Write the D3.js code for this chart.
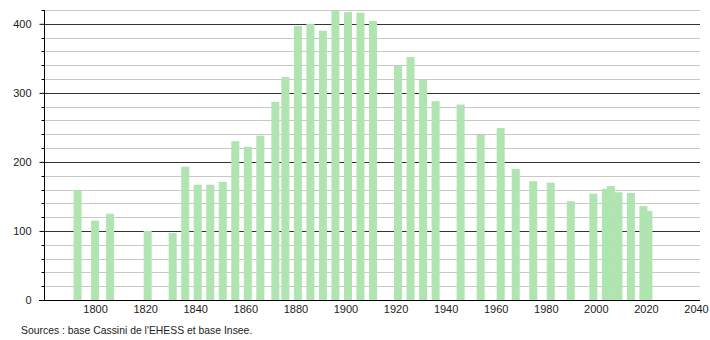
<!DOCTYPE html>
<html>
<head>
<meta charset="utf-8">
<script src="https://cdn.jsdelivr.net/npm/d3@7"></script>
<style>
  body { margin: 0; background: #fff; }
  svg { font-family: 'Liberation Sans', Arial, sans-serif; }
</style>
</head>
<body>
<svg id="chart" width="710" height="340"></svg>
<script>
// census years and population
const years = [1793, 1800, 1806, 1821, 1831, 1836, 1841, 1846, 1851, 1856, 1861, 1866,
  1872, 1876, 1881, 1886, 1891, 1896, 1901, 1906, 1911, 1921, 1926, 1931, 1936, 1946,
  1954, 1962, 1968, 1975, 1982, 1990, 1999, 2004, 2006, 2009, 2014, 2019, 2021];
const population = [159, 115, 125, 100, 97, 193, 167, 167, 171, 230, 222, 238,
  287, 323, 397, 400, 390, 419, 417, 416, 404, 339, 352, 319, 288, 283,
  239, 249, 190, 172, 170, 143, 154, 161, 165, 156, 155, 136, 129];
const xTicks = [1800, 1820, 1840, 1860, 1880, 1900, 1920, 1940, 1960, 1980, 2000, 2020, 2040];
const yMajor = [0, 100, 200, 300, 400];
const yMinor = d3.range(20, 421, 20).filter(v => v % 100 !== 0);
const source = "Sources : base Cassini de l'EHESS et base Insee.";

const data = years.map((y, i) => ({ year: y, pop: population[i] }));

const svg = d3.select('#chart');
const left = 44;
const right = 700;
const bottom = 300;

const xScale = d3.scaleLinear().domain([1780, 2042]).range([45, 701]);
const yScale = d3.scaleLinear().domain([0, 420]).range([bottom, 10]);

// minor grid
svg.append('g')
  .selectAll('line')
  .data(yMinor)
  .enter()
  .append('line')
  .attr('x1', left)
  .attr('x2', right)
  .attr('y1', d => Math.round(yScale(d)) + 0.5)
  .attr('y2', d => Math.round(yScale(d)) + 0.5)
  .style('stroke', '#c8c8c8')
  .style('stroke-width', 1);

// major grid
svg.append('g')
  .selectAll('line')
  .data(yMajor.filter(d => d > 0))
  .enter()
  .append('line')
  .attr('x1', left)
  .attr('x2', right)
  .attr('y1', d => Math.round(yScale(d)) + 0.5)
  .attr('y2', d => Math.round(yScale(d)) + 0.5)
  .style('stroke', '#333333')
  .style('stroke-width', 1);

// bars
svg.append('g')
  .selectAll('rect')
  .data(data)
  .enter()
  .append('rect')
  .attr('x', d => xScale(d.year) - 4)
  .attr('width', 8)
  .attr('y', d => yScale(d.pop))
  .attr('height', d => bottom - yScale(d.pop))
  .style('fill', '#b0e4b0');

// y axis with minor ticks
const yAxis = d3.axisLeft(yScale).tickValues(yMajor).tickSize(5).tickPadding(8);
const gY = svg.append('g')
  .attr('transform', `translate(${left + 0.5},0)`)
  .call(yAxis);
gY.select('.domain').attr('d', `M0,${yScale(420)}V${bottom}`).style('stroke', '#000');
gY.selectAll('.tick line').style('stroke', '#000');
gY.selectAll('.tick text').style('font-size', '11px').style('fill', '#222');
gY.selectAll('.minor')
  .data(yMinor)
  .enter()
  .append('line')
  .attr('class', 'minor')
  .attr('x1', -3)
  .attr('x2', 0)
  .attr('y1', d => Math.round(yScale(d)) + 0.5)
  .attr('y2', d => Math.round(yScale(d)) + 0.5)
  .style('stroke', '#000');

// x axis
const xAxis = d3.axisBottom(xScale).tickValues(xTicks).tickSize(0).tickPadding(5)
  .tickFormat(d3.format('d'));
const gX = svg.append('g')
  .attr('transform', `translate(0,${bottom + 0.5})`)
  .call(xAxis);
gX.select('.domain').attr('d', `M${left - 5},0H${right}`).style('stroke', '#000');
gX.selectAll('.tick text').style('font-size', '11px').style('fill', '#222');

svg.append('text')
  .attr('x', 21)
  .attr('y', 334)
  .style('font-size', '10.4px')
  .style('fill', '#222')
  .text(source);
</script>
</body>
</html>
